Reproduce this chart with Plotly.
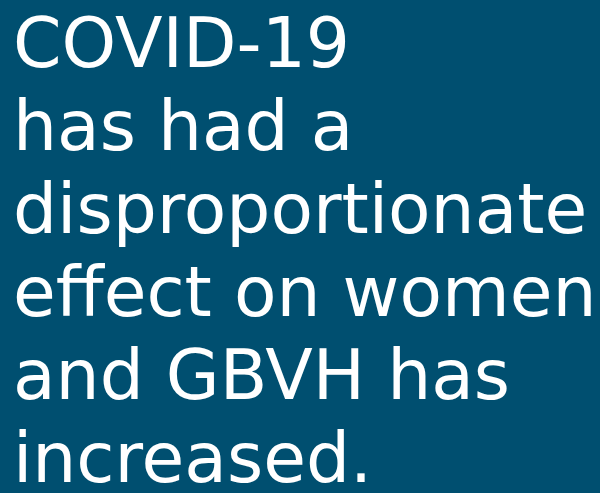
import plotly.graph_objects as go

lines = ["COVID-19", "has had a", "disproportionate", "effect on women", "and GBVH has", "increased."]
baselines_px = [68, 151, 234, 317, 400, 483]

W, H = 600, 493
BG = "#004F70"
FONT_SIZE = 69.5

fig = go.Figure()
for txt, b in zip(lines, baselines_px):
    fig.add_annotation(
        x=11 / W, y=1 - (b - 0.36 * FONT_SIZE) / H,
        xref="paper", yref="paper",
        text=txt, showarrow=False,
        xanchor="left", yanchor="middle",
        font=dict(family="DejaVu Sans", size=FONT_SIZE, color="white"),
    )

fig.update_layout(
    width=W, height=H,
    margin=dict(l=0, r=0, t=0, b=0),
    paper_bgcolor=BG, plot_bgcolor=BG,
    xaxis=dict(visible=False), yaxis=dict(visible=False),
    showlegend=False,
)
fig.write_html(
    "out.html",
    config={"displayModeBar": False},
    post_script="document.body.style.margin='0';document.body.style.background='#004F70';",
)
